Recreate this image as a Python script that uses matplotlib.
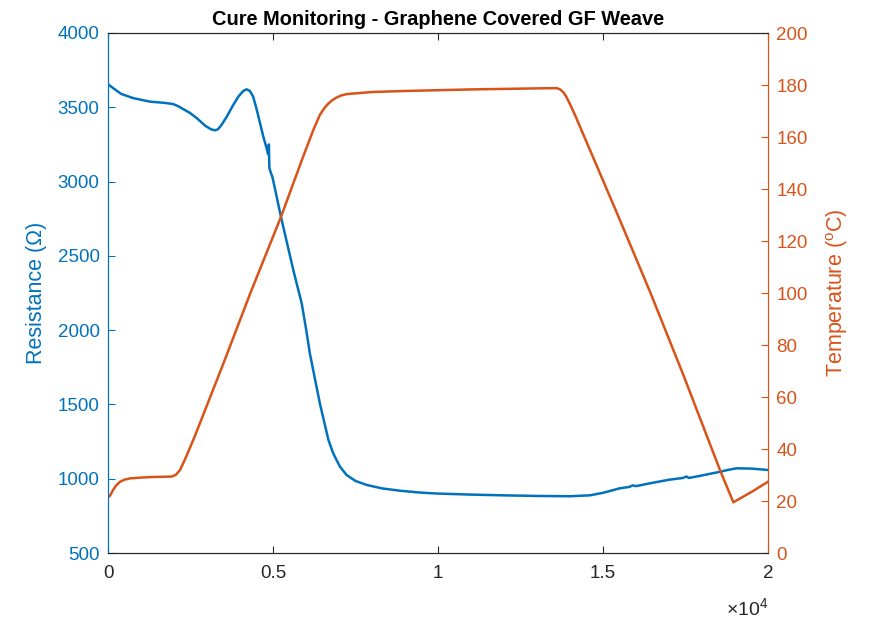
import matplotlib.pyplot as plt
from matplotlib.ticker import FuncFormatter

plt.rcParams['font.family'] = ['Liberation Sans', 'DejaVu Sans']
plt.rcParams['mathtext.fontset'] = 'custom'
plt.rcParams['mathtext.rm'] = 'Liberation Sans'

# Resistance trace (time in s, resistance in ohm)
res_time = [0, 150, 400, 760, 1270, 1700, 1970, 2150, 2300, 2485, 2700, 2950,
            3120, 3240, 3330, 3420, 3600, 3780, 3950, 4100, 4200, 4300, 4400,
            4500, 4600, 4707, 4800, 4850, 4875, 4890, 4990, 5240, 5620, 5870,
            6000, 6120, 6420, 6680, 6820, 6950, 7030, 7230, 7500, 7840, 8300,
            8850, 9500, 10000, 11000, 12000, 13000, 14000, 14600, 15000, 15500,
            15800, 15900, 16000, 16420, 17000, 17420, 17530, 17600, 18000,
            18550, 18800, 19050, 19500, 20000]
res_ohm = [3655, 3630, 3590, 3562, 3538, 3530, 3522, 3505, 3485, 3462, 3425,
           3375, 3352, 3345, 3352, 3375, 3437, 3510, 3572, 3610, 3621, 3610,
           3571, 3490, 3400, 3302, 3230, 3185, 3250, 3090, 3024, 2764, 2400,
           2180, 2010, 1840, 1507, 1261, 1173, 1115, 1081, 1025, 985, 958, 935,
           919, 906, 900, 893, 888, 884, 882, 888, 905, 935, 945, 955, 950,
           969, 993, 1005, 1015, 1005, 1022, 1047, 1060, 1070, 1068, 1059]

# Temperature trace (time in s, temperature in degC)
temp_time = [0, 60, 152, 250, 364, 500, 667, 1000, 1273, 1930, 2050, 2182,
             2350, 2585, 2788, 3500, 4303, 5242, 5900, 6222, 6420, 6550, 6650,
             6780, 6900, 7050, 7230, 8000, 9000, 10000, 11000, 12000, 13000,
             13595, 13700, 13800, 13900, 14000, 14150, 14403, 15414, 16424,
             17434, 18545, 18950, 19500, 20000]
temp_c = [21.4, 22.0, 24.2, 26.0, 27.4, 28.2, 28.7, 29.0, 29.2, 29.4, 30.0,
          31.9, 36.5, 43.5, 50.0, 73.0, 99.6, 129.3, 152.0, 162.7, 168.5,
          171.0, 172.5, 174.0, 175.0, 175.9, 176.5, 177.3, 177.7, 178.0,
          178.3, 178.5, 178.7, 178.8, 178.3, 177.2, 175.2, 172.6, 168.5,
          161.0, 131.0, 100.5, 68.5, 31.9, 19.5, 23.5, 27.4]

xticks = [0, 5000, 10000, 15000, 20000]

blue = '#0072BD'
orange = '#D95319'
dark = '#262626'

fig = plt.figure(figsize=(8.71, 6.23), dpi=100)
ax = fig.add_axes([108 / 871, 1 - 553 / 623, 660 / 871, 520 / 623])
ax2 = ax.twinx()

ax.plot(res_time, res_ohm, color=blue, lw=1.8)
ax2.plot(temp_time, temp_c, color=orange, lw=1.8)

ax.set_xlim(0, 20000)
ax.set_ylim(500, 4000)
ax2.set_ylim(0, 200)
ax.set_xticks(xticks)
ax.set_yticks(range(500, 4001, 500))
ax2.set_yticks(range(0, 201, 20))

# MATLAB style exponent: labels in units of 1e4, factor shown at bottom right
ax.xaxis.set_major_formatter(FuncFormatter(lambda v, p: f'{v / 1e4:g}'))
ax.annotate(r'$\times\mathdefault{10^{4}}$', xy=(1, 0), xycoords='axes fraction',
            xytext=(0, -40), textcoords='offset points', ha='right',
            va='center', fontsize=14, color=dark)

ax.xaxis.set_ticks_position('both')
ax.tick_params(axis='x', direction='in', length=5, colors=dark,
               labelsize=13.5, pad=9)
ax.tick_params(axis='y', direction='in', length=5, colors=blue,
               labelsize=13.5, left=True, right=False, pad=6)
ax2.tick_params(axis='y', direction='in', length=5, colors=orange,
                labelsize=13.5, pad=6)

for a in (ax, ax2):
    a.spines['top'].set_color(dark)
    a.spines['bottom'].set_color(dark)
    a.spines['left'].set_color(blue)
    a.spines['right'].set_color(orange)
    for s in a.spines.values():
        s.set_linewidth(0.8)

ax.set_ylabel('Resistance (Ω)', color=blue, fontsize=15.5, labelpad=8)
ax2.set_ylabel(r'Temperature ($^{\mathrm{o}}$C)', color=orange,
               fontsize=15.5, labelpad=12)
ax.set_title('Cure Monitoring - Graphene Covered GF Weave', fontsize=14.4,
             fontweight='bold', pad=6)

fig.savefig('out.png', dpi=100)
